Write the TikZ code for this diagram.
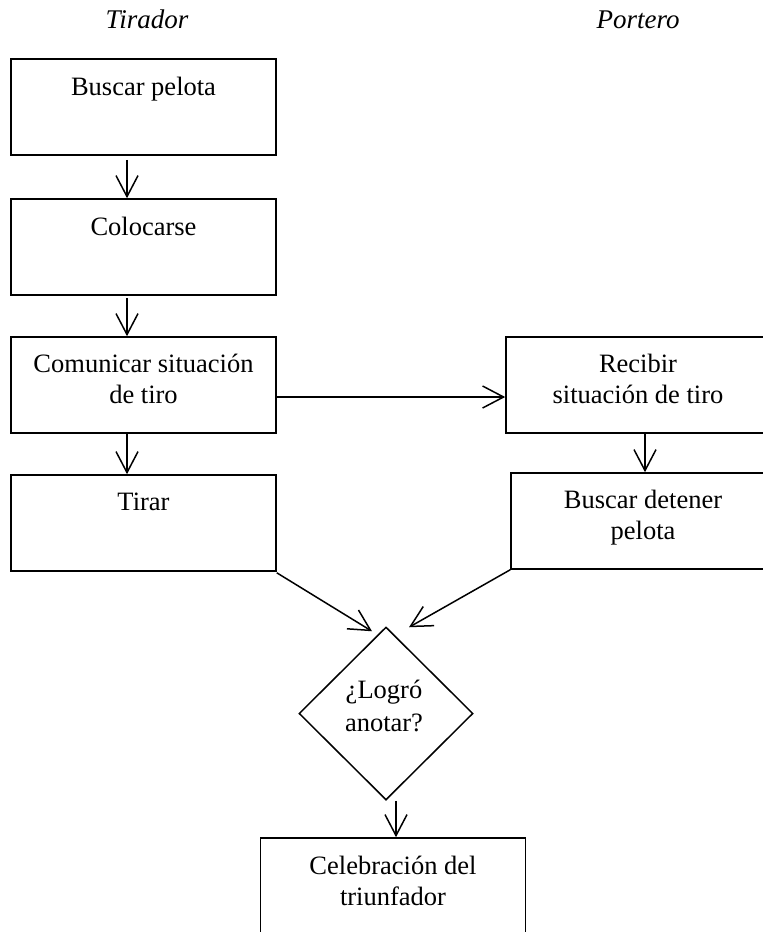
\documentclass[tikz,border=0pt]{standalone}
\usepackage{fontspec}
\setmainfont{Liberation Serif}
\usetikzlibrary{arrows.meta,shapes.geometric}
\newcommand{\twolines}[2]{\begin{tabular}[t]{@{}c@{}}#1\\#2\end{tabular}}
\begin{document}
\begin{tikzpicture}[x=1pt,y=-1pt,
  box/.style={draw, line width=1.6pt, minimum width=265pt, minimum height=96pt, inner sep=0pt},
  dec/.style={draw, diamond, line width=1.5pt, minimum width=174pt, minimum height=173pt, inner sep=0pt},
  txt/.style={font=\fontsize{26.5}{31}\selectfont, inner sep=0pt, anchor=base},
  title/.style={font=\fontsize{27}{31}\selectfont\itshape, inner sep=0pt, anchor=base},
  arr/.style={line width=1.5pt, -{Straight Barb[length=21pt,width=22pt,line width=1.5pt]}}]
\useasboundingbox (0,0) rectangle (763,932);

% lane headings
\node[title] (hT) at (147,28) {Tirador};
\node[title] (hP) at (638,28) {Portero};

% shooter lane
\node[box] (b1) at (143.5,107) {};
\node[box] (b2) at (143.5,247) {};
\node[box] (b3) at (143.5,385) {};
\node[box] (b4) at (143.5,523) {};
\node[txt] (t1) at (143.5,95.5) {Buscar pelota};
\node[txt] (t2) at (143.5,235) {Colocarse};
\node[txt] (t3) at (143.5,372) {\twolines{Comunicar situación}{de tiro}};
\node[txt] (t4) at (143.5,510) {Tirar};

% goalkeeper lane
\node[box] (g1) at (638.5,385) {};
\node[box] (g2) at (643.5,521) {};
\node[txt] (s1) at (638,372) {\twolines{Recibir}{situación de tiro}};
\node[txt] (s2) at (643,508) {\twolines{Buscar detener}{pelota}};

% decision and outcome
\node[dec] (d) at (386,713.5) {};
\node[txt] (dt) at (384,698) {\begin{tabular}[t]{@{}c@{}}¿Logró\\[2pt]anotar?\end{tabular}};
\node[box] (c) at (393,886) {};
\node[txt] (ct) at (393,874) {\twolines{Celebración del}{triunfador}};

% connectors
\draw[arr] ([xshift=-16.5pt,yshift=-4pt]b1.south) -- ([xshift=-16.5pt]b2.north);
\draw[arr] ([xshift=-16.5pt,yshift=-2pt]b2.south) -- ([xshift=-16.5pt]b3.north);
\draw[arr] ([xshift=-16.5pt]b3.south) -- ([xshift=-16.5pt]b4.north);
\draw[arr] ([yshift=-12pt]b3.east) -- ([yshift=-12pt]g1.west);
\draw[arr] ([xshift=6.5pt]g1.south) -- ([xshift=1.5pt]g2.north);
\draw[arr] ([yshift=-1pt]b4.south east) -- ([xshift=-14pt,yshift=-5pt]d.north);
\draw[arr] (g2.south west) -- ([xshift=23pt,yshift=-1pt]d.north);
\draw[arr] ([xshift=10pt]d.south) -- ([xshift=3pt]c.north);
\end{tikzpicture}
\end{document}
